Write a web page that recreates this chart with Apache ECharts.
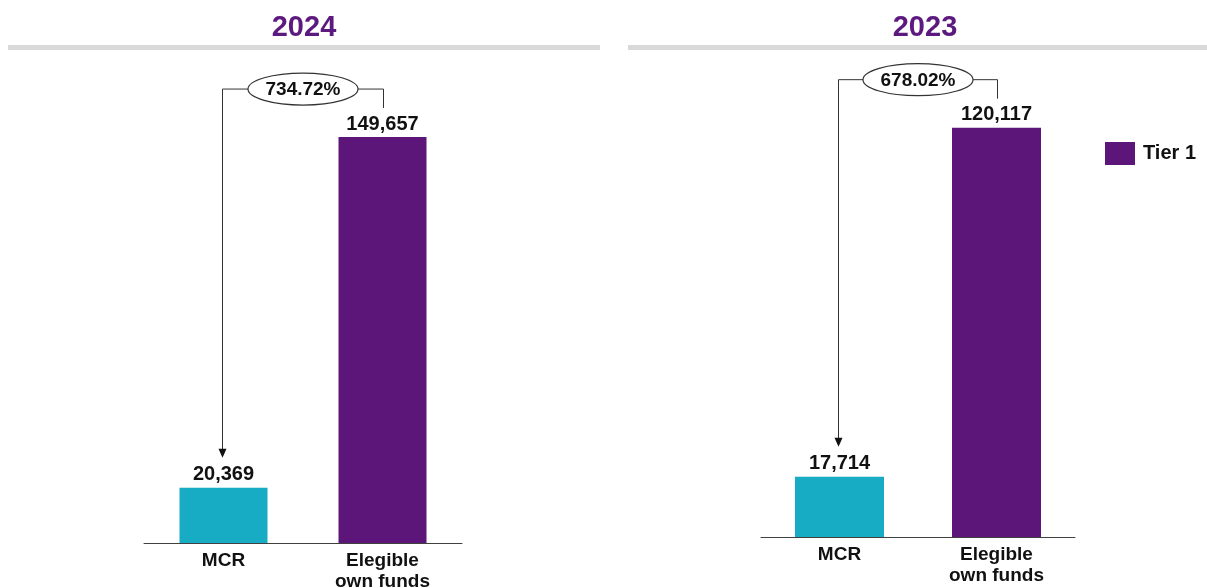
<!DOCTYPE html>
<html>
<head>
<meta charset="utf-8">
<script src="https://cdn.jsdelivr.net/npm/echarts@6/dist/echarts.min.js"></script>
<style>
html,body{margin:0;padding:0;background:#fff;}
#c{width:1207px;height:588px;}
</style>
</head>
<body>
<div id="c"></div>
<script>
const categories = ['MCR', 'Elegible\nown funds'];
const years = ['2024', '2023'];
const mcrValues = [20369, 17714];
const ownFundsValues = [149657, 120117];
const ratioLabels = ['734.72%', '678.02%'];
const legendNames = ['Tier 1'];

const TEAL = '#17abc4';
const PURPLE = '#5c1679';
const TITLE_PURPLE = '#5c1a7e';
const FONT = "'Liberation Sans', Arial, sans-serif";

const chart = echarts.init(document.getElementById('c'), null, {renderer: 'canvas'});

const grids = [
  {left: 144, width: 318, top: 109, bottom: 45, outerBoundsMode: 'none', containLabel: false},
  {left: 761, width: 314, top: 94, bottom: 51, outerBoundsMode: 'none', containLabel: false}
];
const yMax = [160000, 130000];
const barWidths = [88, 89];

const xAxes = [], yAxes = [], series = [];
years.forEach((y, i) => {
  xAxes.push({
    type: 'category', gridIndex: i, data: categories,
    axisLine: {lineStyle: {color: '#404040', width: 1}},
    axisTick: {show: false},
    axisLabel: {color: '#111', fontFamily: FONT, fontWeight: 'bold', fontSize: 19, lineHeight: 21, margin: 7, interval: 0}
  });
  yAxes.push({
    type: 'value', gridIndex: i, min: 0, max: yMax[i], show: false, splitLine: {show: false}
  });
  const lbl = {
    show: true, position: 'top', distance: 3, color: '#111',
    fontFamily: FONT, fontWeight: 'bold', fontSize: 20,
    formatter: p => Number(p.value).toLocaleString('en-US')
  };
  series.push({
    name: 'MCR', type: 'bar', xAxisIndex: i, yAxisIndex: i, stack: 's' + i,
    barWidth: barWidths[i], itemStyle: {color: TEAL}, label: lbl,
    data: [mcrValues[i], '-']
  });
  series.push({
    name: legendNames[0], type: 'bar', xAxisIndex: i, yAxisIndex: i, stack: 's' + i,
    barWidth: barWidths[i], itemStyle: {color: PURPLE}, label: lbl,
    data: ['-', ownFundsValues[i]]
  });
});

chart.setOption({
  animation: false,
  backgroundColor: '#fff',
  grid: grids,
  xAxis: xAxes,
  yAxis: yAxes,
  series: series,
  legend: {
    data: legendNames, left: 1105, top: 142, orient: 'vertical', padding: 0,
    icon: 'rect', itemWidth: 30, itemHeight: 23, itemGap: 10,
    textStyle: {color: '#111', fontFamily: FONT, fontWeight: 'bold', fontSize: 20, padding: [0, 0, 0, 3]}
  }
});

// headers and annotation brackets
const panelCenters = [304, 925];
const lineSpans = [[8, 600], [628, 1207]];
const graphics = [];
years.forEach((y, i) => {
  graphics.push({
    type: 'text', x: panelCenters[i], y: 28,
    style: {text: y, fill: TITLE_PURPLE, font: 'bold 29px ' + FONT, textAlign: 'center', textVerticalAlign: 'middle'}
  });
  graphics.push({
    type: 'rect', shape: {x: lineSpans[i][0], y: 45, width: lineSpans[i][1] - lineSpans[i][0], height: 5},
    style: {fill: '#d9d9d9'}
  });
  const pMcr = chart.convertToPixel({xAxisIndex: i, yAxisIndex: i}, [0, mcrValues[i]]);
  const pOwn = chart.convertToPixel({xAxisIndex: i, yAxisIndex: i}, [1, ownFundsValues[i]]);
  const xL = pMcr[0] - 1, xR = pOwn[0] + 1;
  const yB = pOwn[1] - 48;
  const yTip = pMcr[1] - 30;
  const yEnd = pOwn[1] - 29;
  const cx = (xL + xR) / 2;
  const rx = 55, ry = 16;
  const stroke = '#333';
  graphics.push({
    type: 'polyline', shape: {points: [[xL, yTip - 6], [xL, yB], [cx - rx, yB]]},
    style: {stroke: stroke, lineWidth: 1, fill: null}
  });
  graphics.push({
    type: 'polyline', shape: {points: [[cx + rx, yB], [xR, yB], [xR, yEnd]]},
    style: {stroke: stroke, lineWidth: 1, fill: null}
  });
  graphics.push({
    type: 'polygon', shape: {points: [[xL - 4, yTip - 9], [xL + 4, yTip - 9], [xL, yTip]]},
    style: {fill: '#111'}
  });
  graphics.push({
    type: 'ellipse', shape: {cx: cx, cy: yB, rx: rx, ry: ry},
    style: {fill: '#fff', stroke: stroke, lineWidth: 1.2}
  });
  graphics.push({
    type: 'text', x: cx, y: yB + 1,
    style: {text: ratioLabels[i], fill: '#111', font: 'bold 19px ' + FONT, textAlign: 'center', textVerticalAlign: 'middle'}
  });
});
chart.setOption({graphic: graphics});
</script>
</body>
</html>
